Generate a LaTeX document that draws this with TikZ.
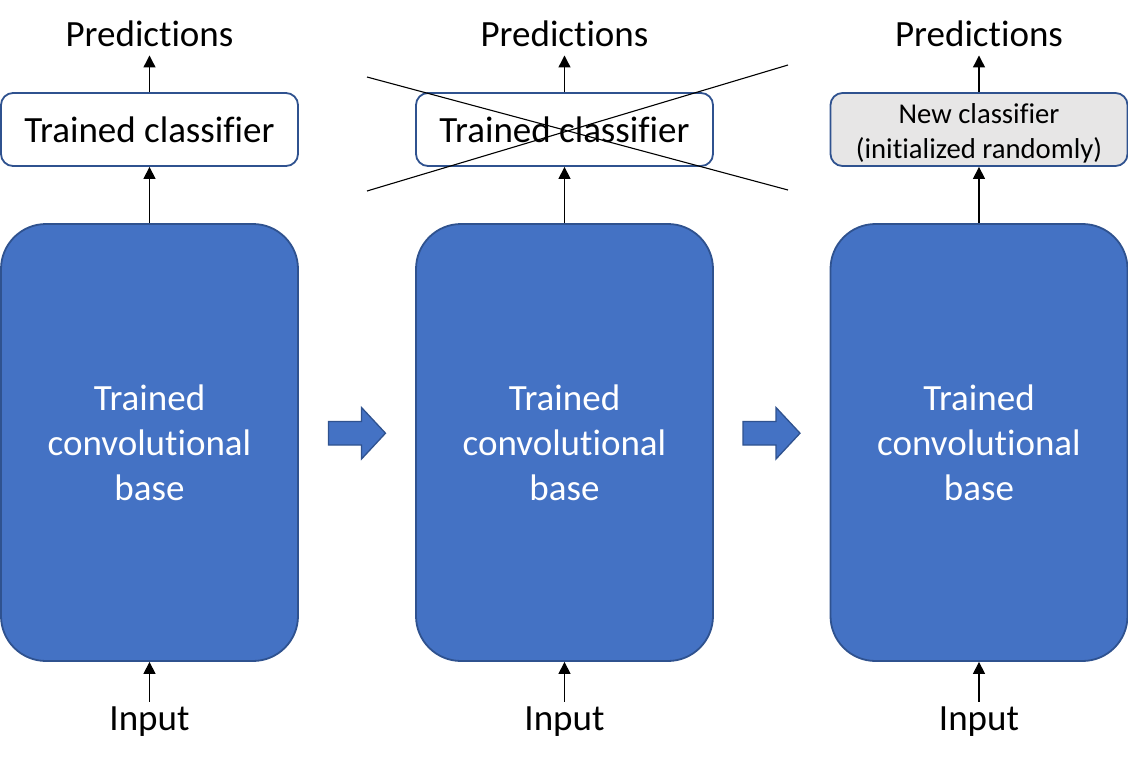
\documentclass[tikz,border=0pt]{standalone}
\usepackage{fontspec}
\setmainfont{Carlito}[Ligatures=NoCommon]
\usetikzlibrary{arrows.meta}
\definecolor{basefill}{HTML}{4472C4}
\definecolor{baseline}{HTML}{2F528F}
\definecolor{newfill}{HTML}{E7E6E6}
\begin{document}
\begin{tikzpicture}[x=1pt,y=-1pt,
  basebox/.style={draw=baseline,fill=basefill,line width=1.8pt,rounded corners=45pt,
    minimum width=297pt,minimum height=437pt,inner sep=0pt,text=white,align=center,
    font=\fontsize{37}{45}\selectfont},
  clsbox/.style={draw=baseline,fill=white,line width=1.8pt,rounded corners=12pt,
    minimum width=297pt,minimum height=73pt,inner sep=0pt,align=center,
    font=\fontsize{37}{45}\selectfont},
  lbl/.style={inner sep=0pt,anchor=base,font=\fontsize{37}{45}\selectfont},
  arr/.style={-{Triangle[width=12pt,length=12pt]},line width=1.3pt},
  bigarrow/.style={draw=baseline,fill=basefill,line width=1.3pt},
  crossline/.style={line width=1.1pt}]
\useasboundingbox (0,0) rectangle (1128,764);
\foreach \i/\cx in {1/149.5,2/564.5,3/979} {
  \node[basebox] (base\i) at (\cx,442.5) {Trained\\convolutional\\base};
  \node[lbl] (pred\i) at (\cx,46) {Predictions};
  \node[lbl] (in\i) at (\cx,730) {Input};
}
\node[clsbox] (cls1) at (149.5,129.5) {\raisebox{0pt}{Trained classifier}};
\node[clsbox] (cls2) at (564.5,129.5) {Trained classifier};
\node[clsbox,fill=newfill,
  label={[inner sep=0pt,align=center,yshift=-4pt,font=\fontsize{28.7}{35}\selectfont]center:New classifier\\(initialized randomly)}]
  (cls3) at (979,129.5) {};
\foreach \i in {1,2,3} {
  \draw[arr] (cls\i.north) -- ([yshift=-9pt]pred\i.south);
  \draw[arr] (base\i.north) -- (cls\i.south);
  \draw[arr] ([yshift=4.5pt]in\i.north) -- (base\i.south);
}
\coordinate (x1a) at (367,77);
\coordinate (x1b) at (788,190);
\coordinate (x2a) at (367,191);
\coordinate (x2b) at (788,65);
\draw[crossline] (x1a) -- (x1b);
\draw[crossline] (x2a) -- (x2b);
\foreach \dx in {0,414.5} {
  \draw[bigarrow,xshift=\dx] (328.5,421.5) -- (361.5,421.5) -- (361.5,407.5) -- (385.5,433.2)
    -- (361.5,459) -- (361.5,445) -- (328.5,445) -- cycle;
}
\end{tikzpicture}
\end{document}
